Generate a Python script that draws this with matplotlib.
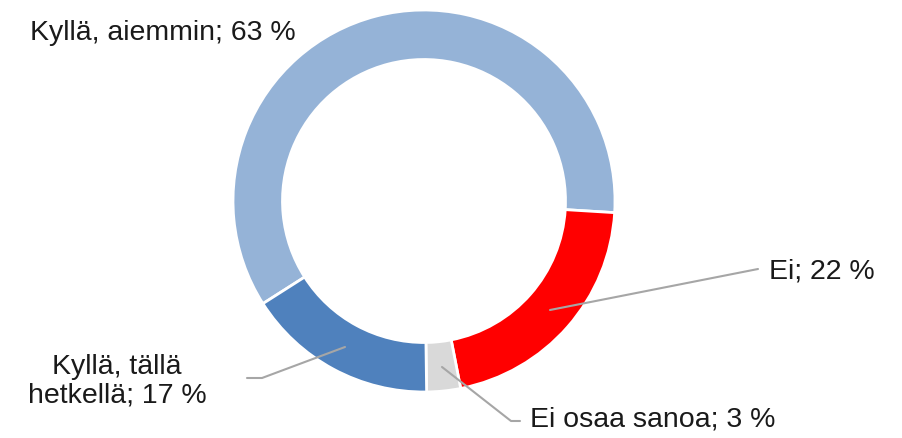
import matplotlib

matplotlib.use("Agg")
import matplotlib.pyplot as plt

# data (clockwise from the top-right)
labels = ["Kyllä, aiemmin", "Ei", "Ei osaa sanoa", "Kyllä, tällä\nhetkellä"]
values = [63, 22, 3, 17]
colors = ["#95B3D7", "#FF0000", "#D9D9D9", "#4F81BD"]

_INK = "#1a1a1a"
_LEADER = "#A6A6A6"

plt.rcParams["font.family"] = ["Liberation Sans", "DejaVu Sans"]

W, H = 903, 438
fig = plt.figure(figsize=(W / 100, H / 100), dpi=100)
ax = fig.add_axes([0, 0, 1, 1])

# pixel coordinates, y measured from the top
cx, cy, R, r = 424, 201, 191, 141.5
ax.pie(values, colors=colors, startangle=212.5, counterclock=False,
       center=(cx, H - cy), radius=R,
       wedgeprops={"width": R - r, "edgecolor": "white", "linewidth": 2})
ax.set_xlim(0, W)
ax.set_ylim(0, H)
ax.set_aspect("equal")
ax.axis("off")


def leader(points):
    xs = [p[0] for p in points]
    ys = [H - p[1] for p in points]
    ax.plot(xs, ys, color=_LEADER, linewidth=1.5, solid_capstyle="round")


def label(x, y, txt, ha="left"):
    ax.text(x, H - y, txt, ha=ha, va="center", fontsize=20.5, color=_INK,
            linespacing=1.12)


label(30, 33, f"{labels[0]}; {values[0]} %")

leader([(550, 310), (758, 269)])
label(769, 272, f"{labels[1]}; {values[1]} %")

leader([(442, 367), (511, 421), (520, 421)])
label(530, 419, f"{labels[2]}; {values[2]} %")

leader([(345, 347), (262, 378), (247, 378)])
label(117, 381, f"{labels[3]}; {values[3]} %", ha="center")

fig.savefig("out.png", dpi=100, facecolor="white")
